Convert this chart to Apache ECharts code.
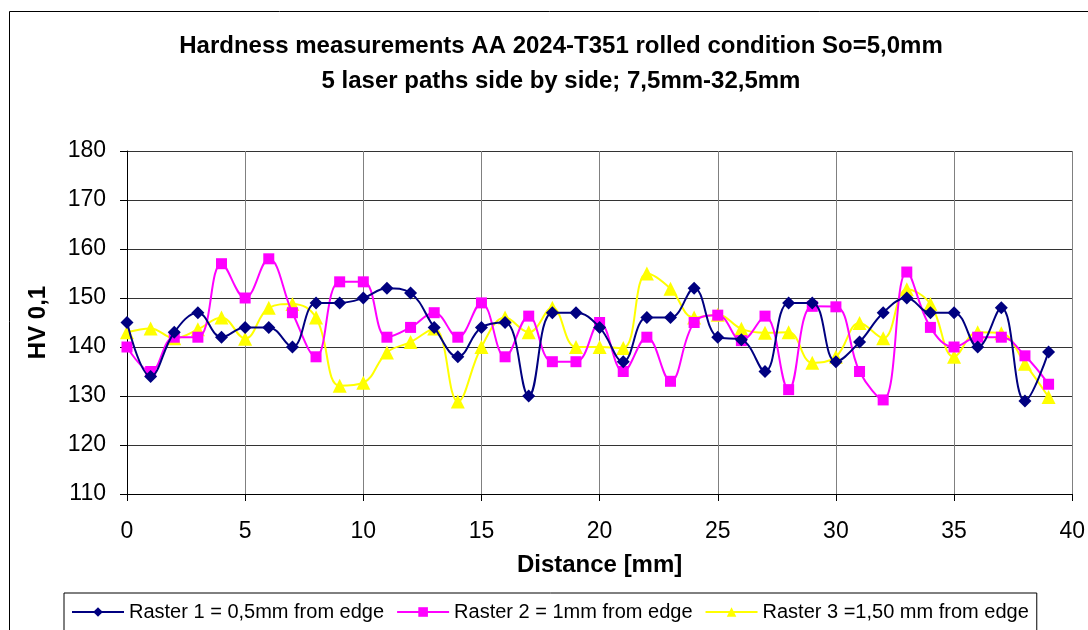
<!DOCTYPE html>
<html>
<head>
<meta charset="utf-8">
<script src="https://cdn.jsdelivr.net/npm/echarts@6/dist/echarts.min.js"></script>
<style>
html, body { margin: 0; padding: 0; background: #fff; }
#chart { width: 1088px; height: 630px; }
</style>
</head>
<body>
<div id="chart"></div>
<script>
// distance along the sample [mm]
var distance = [0, 1, 2, 3, 4, 5, 6, 7, 8, 9, 10, 11, 12, 13, 14, 15, 16, 17, 18, 19,
  20, 21, 22, 23, 24, 25, 26, 27, 28, 29, 30, 31, 32, 33, 34, 35, 36, 37, 38, 39];

// HV 0,1 readings
var raster1 = [145, 134, 143, 147, 142, 144, 144, 140, 149, 149, 150, 152, 151, 144, 138, 144, 145, 130, 147, 147,
  144, 137, 146, 146, 152, 142, 141.5, 135, 149, 149, 137, 141, 147, 150, 147, 147, 140, 148, 129, 139];
var raster2 = [140, 135, 142, 142, 157, 150, 158, 147, 138, 153.3, 153.3, 142, 144, 147, 142, 149, 138, 146.3, 137, 137,
  145, 135, 142, 133, 145, 146.5, 141.3, 146.3, 131.3, 148.3, 148.2, 135, 129.2, 155.3, 144, 140, 142, 142, 138.2, 132.4];
var raster3 = [143, 143.8, 141.8, 143.6, 146, 141.7, 148, 148.8, 146, 132.1, 132.7, 138.9, 141, 143.8, 128.9, 140, 146, 143, 148, 140,
  140, 139.8, 155, 151.9, 146, 146.6, 143.7, 142.9, 143, 136.8, 138, 144.9, 141.8, 151.8, 148.8, 138, 143, 142.8, 136.6, 129.8];

var seriesNames = ['Raster 1 = 0,5mm from edge', 'Raster 2 = 1mm from edge', 'Raster 3 =1,50 mm from edge'];

function pairs(vals) {
  var out = [];
  for (var i = 0; i < vals.length; i++) {
    out.push([distance[i], vals[i]]);
  }
  return out;
}

var myChart = echarts.init(document.getElementById('chart'));
var font = 'Liberation Sans, Arial, sans-serif';

myChart.setOption({
  animation: false,
  backgroundColor: '#fff',
  textStyle: { fontFamily: font },
  title: {
    text: 'Hardness measurements AA 2024-T351 rolled condition So=5,0mm\n5 laser paths side by side; 7,5mm-32,5mm',
    left: 556,
    top: 24,
    textAlign: 'center',
    textStyle: { fontSize: 24, fontWeight: 'bold', color: '#000', lineHeight: 35, fontFamily: font }
  },
  graphic: [{
    type: 'rect',
    shape: { x: 9.5, y: 11.5, width: 1100, height: 640 },
    style: { fill: null, stroke: '#000', lineWidth: 1 },
    silent: true,
    z: -1
  }],
  legend: {
    data: seriesNames,
    left: 64,
    top: 593,
    width: 977,
    padding: [9, 8, 14, 7],
    itemGap: 12,
    itemWidth: 52,
    itemHeight: 12,
    borderColor: '#000',
    borderWidth: 1,
    textStyle: { fontSize: 20, color: '#000', fontFamily: font }
  },
  grid: {
    left: 127,
    right: 15,
    top: 151,
    bottom: 136
  },
  xAxis: {
    type: 'value',
    min: 0,
    max: 40,
    interval: 5,
    name: 'Distance [mm]',
    nameLocation: 'middle',
    nameGap: 59,
    nameTextStyle: { fontSize: 24, fontWeight: 'bold', color: '#000', fontFamily: font },
    axisLine: { lineStyle: { color: '#000', width: 1 } },
    axisTick: { show: true, length: 7, inside: false, lineStyle: { color: '#000' } },
    axisLabel: { fontSize: 23, color: '#000', margin: 26, fontFamily: font },
    splitLine: { show: true, lineStyle: { color: '#808080', width: 1 } }
  },
  yAxis: {
    type: 'value',
    min: 110,
    max: 180,
    interval: 10,
    name: 'HV 0,1',
    nameLocation: 'middle',
    nameGap: 77,
    nameRotate: 90,
    nameTextStyle: { fontSize: 24, fontWeight: 'bold', color: '#000', fontFamily: font },
    axisLine: { show: true, lineStyle: { color: '#000', width: 1 } },
    axisTick: { show: true, length: 7, inside: false, lineStyle: { color: '#000' } },
    axisLabel: { fontSize: 23, color: '#000', margin: 21, fontFamily: font },
    splitLine: { show: true, lineStyle: { color: '#333', width: 1 } }
  },
  series: [{
    name: seriesNames[0],
    type: 'line',
    smooth: 0.4,
    data: pairs(raster1),
    symbol: 'diamond',
    symbolSize: 13,
    itemStyle: { color: '#000080' },
    lineStyle: { color: '#000080', width: 2 },
    z: 4
  }, {
    name: seriesNames[1],
    type: 'line',
    smooth: 0.4,
    data: pairs(raster2),
    symbol: 'rect',
    symbolSize: 11,
    itemStyle: { color: '#ff00ff' },
    lineStyle: { color: '#ff00ff', width: 2 },
    z: 3
  }, {
    name: seriesNames[2],
    type: 'line',
    smooth: 0.4,
    data: pairs(raster3),
    symbol: 'triangle',
    symbolSize: 14,
    itemStyle: { color: '#ffff00' },
    lineStyle: { color: '#ffff00', width: 2 },
    z: 2
  }]
});
</script>
</body>
</html>
